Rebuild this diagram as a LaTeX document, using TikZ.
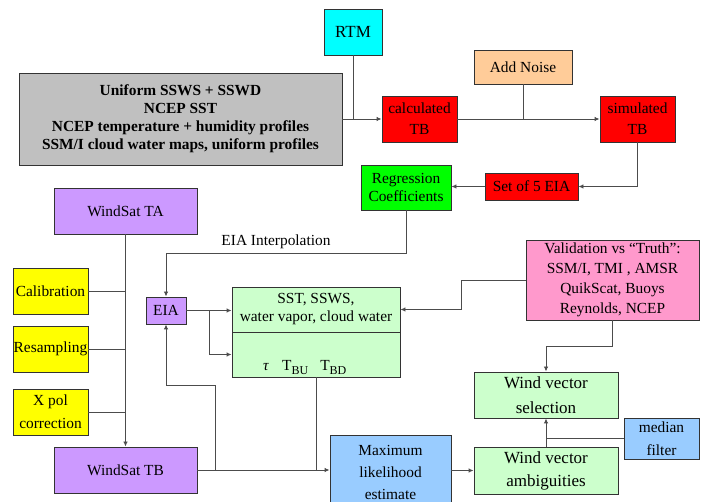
\documentclass[tikz,border=0pt]{standalone}
\usepackage{fontspec}
\setmainfont{Liberation Serif}
\usetikzlibrary{arrows.meta}
\definecolor{cRTM}{HTML}{00FFFF}
\definecolor{cGray}{HTML}{C0C0C0}
\definecolor{cRed}{HTML}{FF0000}
\definecolor{cPeach}{HTML}{FFCC99}
\definecolor{cGreen}{HTML}{00FF00}
\definecolor{cPurple}{HTML}{CC99FF}
\definecolor{cYellow}{HTML}{FFFF00}
\definecolor{cLGreen}{HTML}{CCFFCC}
\definecolor{cBlue}{HTML}{99CCFF}
\definecolor{cPink}{HTML}{FF99CC}
\newcommand{\subtxt}[1]{\raisebox{-4pt}{\fontsize{12}{12}\selectfont #1}}
\begin{document}
\begin{tikzpicture}[x=1pt,y=-1pt,
  box/.style={draw=black!80, line width=0.9pt, rectangle, inner sep=0pt, align=center, font=\fontsize{15.4}{18}\selectfont},
  conn/.style={draw=black!70, line width=0.9pt},
  arr/.style={conn, -{Latex[length=5pt,width=4.5pt]}},
  lbl/.style={inner sep=0pt, font=\fontsize{15.4}{18}\selectfont}]
\useasboundingbox (0,0) rectangle (710,502);
\clip (0,0) rectangle (710,502);
\fill[white] (0,0) rectangle (710,502);
% boxes
\node[box, fill=cRTM, minimum width=58, minimum height=46, font=\fontsize{17}{20}\selectfont] (rtm) at (353,32) {RTM};
\node[box, fill=cGray, minimum width=323, minimum height=92, font=\fontsize{15.4}{18}\selectfont\bfseries] (gray) at (180.5,119)
  {Uniform SSWS + SSWD\\NCEP SST\\NCEP temperature + humidity profiles\\SSM/I cloud water maps, uniform profiles};
\node[box, fill=cRed, minimum width=75, minimum height=46, font=\fontsize{15.4}{21}\selectfont] (calc) at (419.5,119) {calculated\\TB};
\node[box, fill=cPeach, minimum width=98, minimum height=34] (noise) at (523,67) {Add Noise};
\node[box, fill=cRed, minimum width=75, minimum height=46, font=\fontsize{15.4}{21}\selectfont] (sim) at (637.5,119) {simulated\\TB};
\node[box, fill=cRed, minimum width=93, minimum height=27] (set5) at (531.5,186.5) {Set of 5 EIA};
\node[box, fill=cGreen, minimum width=90, minimum height=45] (regr) at (406,187.5) {Regression\\Coefficients};
\node[box, fill=cPurple, minimum width=143, minimum height=46] (wsta) at (125.5,211) {WindSat TA};
\node[box, fill=cYellow, minimum width=75, minimum height=46] (calib) at (50.5,291) {Calibration};
\node[box, fill=cYellow, minimum width=75, minimum height=46] (resamp) at (50.5,349) {Resampling};
\node[box, fill=cYellow, minimum width=75, minimum height=46, font=\fontsize{15.4}{23}\selectfont] (xpol) at (50.5,412) {X pol\\correction};
\node[box, fill=cPurple, minimum width=143, minimum height=46] (wstb) at (125.5,470) {WindSat TB};
\node[box, fill=cPurple, minimum width=40, minimum height=27] (eia) at (166,310.5) {EIA};
\node[box, fill=cLGreen, minimum width=168, minimum height=45] (ssttop) at (316,309.5) {SST, SSWS,\\water vapor, cloud water};
\node[box, fill=cLGreen, minimum width=168, minimum height=45] (sstbot) at (316,354.5) {};
\node[lbl, anchor=base west] (tautext) at (263,371) {\textit{τ}\hspace{13pt}T\subtxt{BU}\hspace{12pt}T\subtxt{BD}};
\node[box, fill=cBlue, minimum width=121, minimum height=75, font=\fontsize{15.4}{22}\selectfont] (mle) at (390.5,472.5) {Maximum\\likelihood\\estimate};
\node[box, fill=cLGreen, minimum width=144, minimum height=47, font=\fontsize{17}{23}\selectfont] (amb) at (546,470.5) {Wind vector\\ambiguities};
\node[box, fill=cLGreen, minimum width=144, minimum height=46, font=\fontsize{17}{25}\selectfont] (sel) at (546,395) {Wind vector\\selection};
\node[box, fill=cBlue, minimum width=75, minimum height=41, font=\fontsize{15.4}{23}\selectfont] (median) at (661.5,438.5) {median\\filter};
\node[box, fill=cPink, minimum width=173, minimum height=80, font=\fontsize{15.4}{20}\selectfont] (valid) at (612.5,280) {Validation vs “Truth”:\\SSM/I, TMI , AMSR\\QuikScat, Buoys\\Reynolds, NCEP};
\node[lbl] (interplab) at (276,242) {EIA Interpolation};
% connectors
\coordinate (interp) at (406,253);
\coordinate (br1) at (209,310.5);
\coordinate (br2) at (215,470);
\coordinate (br3) at (215,385);
\draw[conn] (gray.east) -- (gray.east -| rtm.south);
\draw[arr] (rtm.south) |- (calc.west);
\draw[arr] (calc.east) -- (sim.west);
\draw[conn] (noise.south) -- (noise.south |- calc.east);
\draw[arr] (sim.south) |- (set5.east);
\draw[arr] (set5.west) -- (set5.west -| regr.east);
\draw[arr] (regr.south) -- (interp) -| (eia.north);
\draw[arr] (wsta.south) -- (wstb.north);
\draw[conn] (calib.east) -- (calib.east -| wsta.south);
\draw[conn] (resamp.east) -- (resamp.east -| wsta.south);
\draw[conn] (xpol.east) -- (xpol.east -| wsta.south);
\draw[arr] (eia.east) -- (eia.east -| ssttop.west);
\draw[arr] (br1) |- (sstbot.west);
\draw[arr] (wstb.east) -- (wstb.east -| mle.west);
\draw[arr] (br2) -- (br3) -| (eia.south);
\draw[conn] (sstbot.south) -- (sstbot.south |- wstb.east);
\draw[arr] (mle.east |- amb.west) -- (amb.west);
\draw[arr] (amb.north) -- (sel.south);
\draw[conn] (median.west) -- (median.west -| amb.north);
\draw[arr] (valid.west) -- ++(-64,0) |- (ssttop.east);
\draw[arr] (valid.south) -- ++(0,26) -| (sel.north);
\end{tikzpicture}
\end{document}
